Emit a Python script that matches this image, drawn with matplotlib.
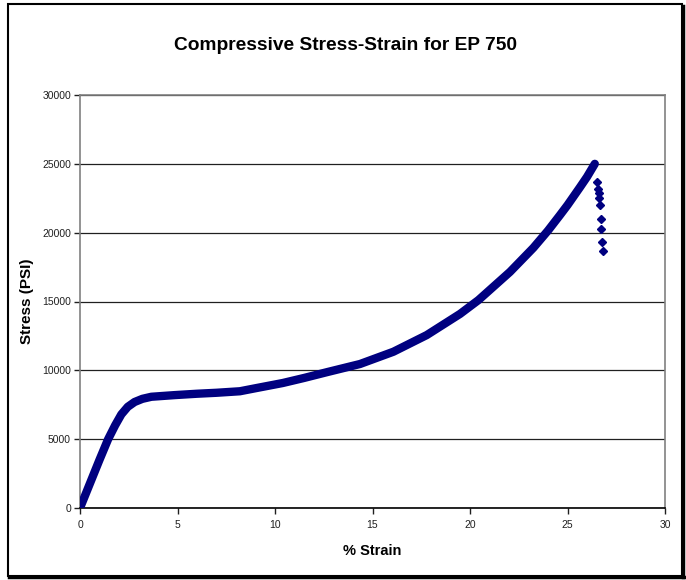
import matplotlib
matplotlib.use("Agg")
import matplotlib.pyplot as plt
from matplotlib.patches import Rectangle
from matplotlib.lines import Line2D

# Main loading curve (% strain, stress psi)
strain = [0.0, 0.58, 1.0, 1.44, 1.8, 2.12, 2.45, 2.8, 3.2, 3.66, 4.85, 6.0, 7.0, 8.2,
          9.0, 10.4, 11.5, 12.7, 14.36, 16.07, 17.78, 19.49, 20.43, 22.05, 23.25, 24.0,
          24.6, 25.0, 25.64, 26.0, 26.4]
stress = [0, 2030, 3500, 4990, 6000, 6800, 7350, 7700, 7930, 8080, 8200, 8300, 8370, 8480,
          8700, 9080, 9450, 9880, 10460, 11350, 12560, 14100, 15100, 17150, 18900, 20150,
          21250, 22000, 23300, 24050, 25000]

# Failure points after peak
fail_strain = [26.5, 26.55, 26.6, 26.6, 26.65, 26.7, 26.7, 26.75, 26.8]
fail_stress = [23700, 23200, 22900, 22500, 22000, 21000, 20300, 19300, 18700]

title = "Compressive Stress-Strain for EP 750"
xlabel = "% Strain"
ylabel = "Stress (PSI)"
xticks = [0, 5, 10, 15, 20, 25, 30]
yticks = [0, 5000, 10000, 15000, 20000, 25000, 30000]

navy = "#000080"
font = "Liberation Sans"
W, H = 686, 580
fig = plt.figure(figsize=(W / 100, H / 100), dpi=100)
ax = fig.add_axes([80 / W, 1 - 508 / H, 585 / W, 413 / H])

ax.plot(strain, stress, color=navy, lw=6.0, solid_capstyle="round",
        solid_joinstyle="round", zorder=3)
ax.plot(fail_strain, fail_stress, ls="none", marker="D", ms=4.5, color=navy, zorder=3)

ax.set_xlim(0, 30)
ax.set_ylim(0, 30000)
ax.set_xticks(xticks)
ax.set_yticks(yticks)
ax.set_xticklabels([str(t) for t in xticks])
ax.set_yticklabels([str(t) for t in yticks])
ax.yaxis.grid(True, color="#202020", lw=0.9)
ax.set_axisbelow(True)
for s in ["top", "right", "left"]:
    ax.spines[s].set_color("#808080")
    ax.spines[s].set_linewidth(1.2)
ax.spines["bottom"].set_color("black")
ax.spines["bottom"].set_linewidth(1.2)
ax.tick_params(axis="both", direction="out", length=4, width=1, labelsize=7.5,
               colors="#202020")
ax.tick_params(axis="y", pad=2.5)
ax.tick_params(axis="x", pad=5)
for lab in ax.get_xticklabels() + ax.get_yticklabels():
    lab.set_fontfamily(font)

ax.set_xlabel(xlabel, fontsize=10.5, fontweight="bold", family=font, labelpad=10)
ax.set_ylabel(ylabel, fontsize=11, fontweight="bold", family=font)
ax.yaxis.set_label_coords((34 - 80) / 585, 0.5)
fig.text(346 / W, 1 - 45 / H, title, ha="center", va="center", fontsize=13.8,
         fontweight="bold", family=font)

# Chart area border
fig.add_artist(Rectangle((8 / W, 4 / H), (682 - 8) / W, (576 - 4) / H, transform=fig.transFigure,
                         fill=False, ec="black", lw=1.5))
fig.add_artist(Line2D([683 / W, 683 / W], [3 / H, 1 - 6 / H], transform=fig.transFigure,
                      color="black", lw=2.5))
fig.add_artist(Line2D([9 / W, 684 / W], [3 / H, 3 / H], transform=fig.transFigure,
                      color="black", lw=2.5))

fig.savefig("out.png", dpi=100)
